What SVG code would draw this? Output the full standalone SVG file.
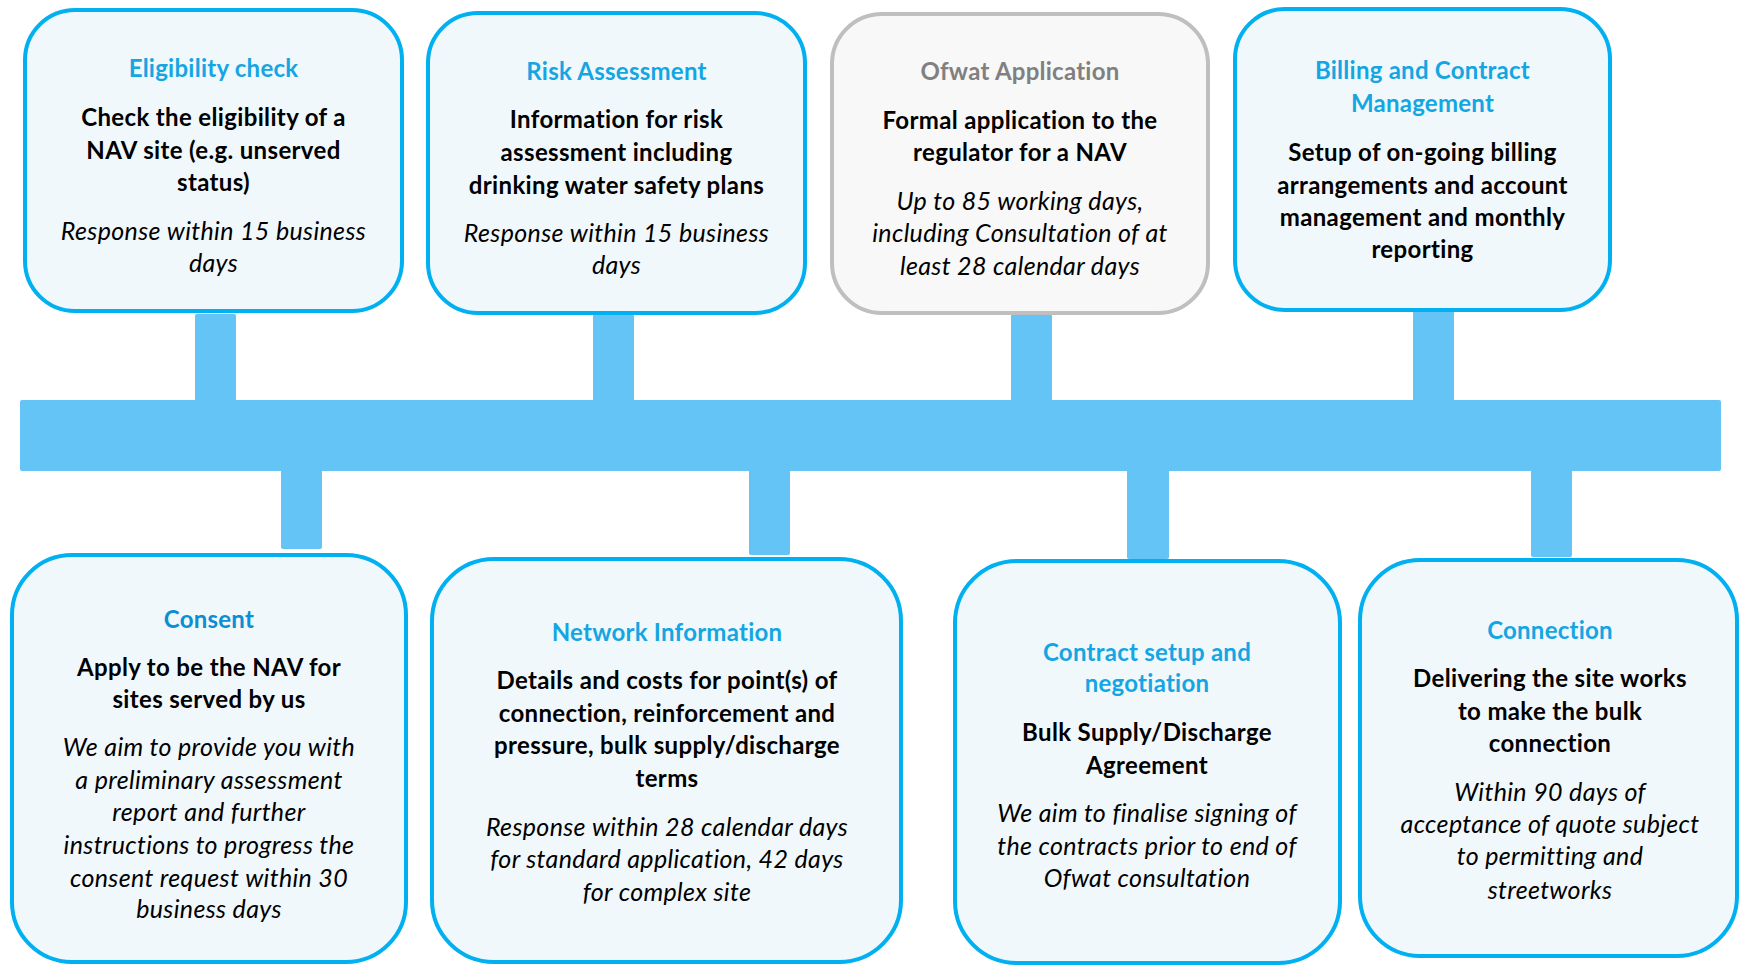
<svg xmlns="http://www.w3.org/2000/svg" width="1740" height="966" viewBox="0 0 1740 966">
<style>
.box{fill:#F1F8FC;stroke:#00B0F0;stroke-width:4}
.gbox{fill:#F8F8F8;stroke:#BFBFBF;stroke-width:4}
.pipe{fill:#64C4F6}
text{font-family:Lato,"Open Sans","Liberation Sans",sans-serif;font-size:24px;text-anchor:middle;fill:#000}
.t{font-weight:bold;fill:#14A6E2;letter-spacing:0.25px}
.tg{font-weight:bold;fill:#808080;letter-spacing:0.25px}
.tc{font-weight:bold;fill:#0D8ED0;letter-spacing:0.25px}
.b{font-weight:bold;letter-spacing:0.35px}
.i{font-style:italic;font-size:25px;letter-spacing:0.35px}
</style>
<rect width="1740" height="966" fill="#fff"/>
<g id="connectors">
<rect class="pipe" x="20" y="400" width="1701" height="71" rx="2"/>
<rect class="pipe" x="195" y="314" width="41" height="88" rx="2"/>
<rect class="pipe" x="593" y="314" width="41" height="88" rx="2"/>
<rect class="pipe" x="1011" y="314" width="41" height="88" rx="2"/>
<rect class="pipe" x="1413" y="311" width="41" height="91" rx="2"/>
<rect class="pipe" x="281" y="469" width="41" height="80" rx="2"/>
<rect class="pipe" x="749" y="469" width="41" height="86" rx="2"/>
<rect class="pipe" x="1127" y="469" width="42" height="90" rx="2"/>
<rect class="pipe" x="1531" y="469" width="41" height="88" rx="2"/>
</g>
<g id="eligibility">
<rect class="box" x="25" y="10" width="377" height="301" rx="50"/>
<text class="t" x="213.5" y="77">Eligibility check</text>
<text class="b" x="213.5" y="126">Check the eligibility of a</text>
<text class="b" x="213.5" y="158.5">NAV site (e.g. unserved</text>
<text class="b" x="213.5" y="191">status)</text>
<text class="i" x="213.5" y="239.5">Response within 15 business</text>
<text class="i" x="213.5" y="272">days</text>
</g>
<g id="risk">
<rect class="box" x="428" y="13" width="377" height="300" rx="50"/>
<text class="t" x="616.5" y="80">Risk Assessment</text>
<text class="b" x="616.5" y="128">Information for risk</text>
<text class="b" x="616.5" y="161">assessment including</text>
<text class="b" x="616.5" y="193.5">drinking water safety plans</text>
<text class="i" x="616.5" y="241.5">Response within 15 business</text>
<text class="i" x="616.5" y="274">days</text>
</g>
<g id="ofwat">
<rect class="gbox" x="832" y="14" width="376" height="299" rx="50"/>
<text class="tg" x="1020" y="80">Ofwat Application</text>
<text class="b" x="1020" y="128.5">Formal application to the</text>
<text class="b" x="1020" y="161">regulator for a NAV</text>
<text class="i" x="1020" y="210">Up to 85 working days,</text>
<text class="i" x="1020" y="242">including Consultation of at</text>
<text class="i" x="1020" y="275">least 28 calendar days</text>
</g>
<g id="billing">
<rect class="box" x="1235" y="9" width="375" height="301" rx="50"/>
<text class="t" x="1422.5" y="79">Billing and Contract</text>
<text class="t" x="1422.5" y="111.5">Management</text>
<text class="b" x="1422.5" y="161">Setup of on-going billing</text>
<text class="b" x="1422.5" y="193.5">arrangements and account</text>
<text class="b" x="1422.5" y="225.5">management and monthly</text>
<text class="b" x="1422.5" y="258">reporting</text>
</g>
<g id="consent">
<rect class="box" x="12" y="555" width="394" height="407" rx="60"/>
<text class="tc" x="209" y="627.5">Consent</text>
<text class="b" x="209" y="676">Apply to be the NAV for</text>
<text class="b" x="209" y="708">sites served by us</text>
<text class="i" x="209" y="755.5">We aim to provide you with</text>
<text class="i" x="209" y="788.5">a preliminary assessment</text>
<text class="i" x="209" y="821">report and further</text>
<text class="i" x="209" y="854">instructions to progress the</text>
<text class="i" x="209" y="886.5">consent request within 30</text>
<text class="i" x="209" y="918">business days</text>
</g>
<g id="network">
<rect class="box" x="432" y="559" width="469" height="403" rx="62"/>
<text class="t" x="667" y="640.5">Network Information</text>
<text class="b" x="667" y="689">Details and costs for point(s) of</text>
<text class="b" x="667" y="722">connection, reinforcement and</text>
<text class="b" x="667" y="754">pressure, bulk supply/discharge</text>
<text class="b" x="667" y="786.5">terms</text>
<text class="i" x="667" y="836">Response within 28 calendar days</text>
<text class="i" x="667" y="868">for standard application, 42 days</text>
<text class="i" x="667" y="900.5">for complex site</text>
</g>
<g id="contract">
<rect class="box" x="955" y="561" width="385" height="402" rx="62"/>
<text class="t" x="1147" y="660.5">Contract setup and</text>
<text class="t" x="1147" y="691.5">negotiation</text>
<text class="b" x="1147" y="740.5">Bulk Supply/Discharge</text>
<text class="b" x="1147" y="773.5">Agreement</text>
<text class="i" x="1147" y="822">We aim to finalise signing of</text>
<text class="i" x="1147" y="854.5">the contracts prior to end of</text>
<text class="i" x="1147" y="887">Ofwat consultation</text>
</g>
<g id="connection">
<rect class="box" x="1360" y="560" width="377" height="396" rx="60"/>
<text class="t" x="1550" y="639">Connection</text>
<text class="b" x="1550" y="686.5">Delivering the site works</text>
<text class="b" x="1550" y="719.5">to make the bulk</text>
<text class="b" x="1550" y="752">connection</text>
<text class="i" x="1550" y="800.5">Within 90 days of</text>
<text class="i" x="1550" y="833">acceptance of quote subject</text>
<text class="i" x="1550" y="865">to permitting and</text>
<text class="i" x="1550" y="898.5">streetworks</text>
</g>
</svg>
